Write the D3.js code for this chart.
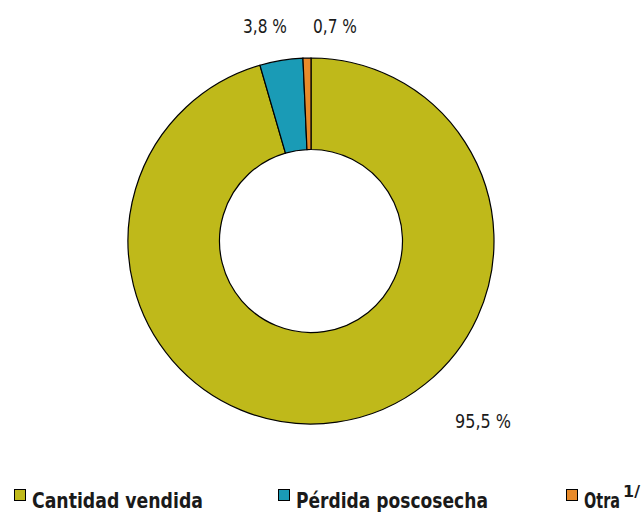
<!DOCTYPE html>
<html><head><meta charset="utf-8">
<script src="https://cdn.jsdelivr.net/npm/d3@7/dist/d3.min.js"></script>
<style>
body{margin:0;background:#fff;}
text{font-family:"DejaVu Sans Condensed","DejaVu Sans",sans-serif;}
</style></head>
<body><svg id="c" width="644" height="512"></svg>
<script>
const categories = ["Cantidad vendida", "Pérdida poscosecha", "Otra"];
const values = [95.5, 3.8, 0.7];
const valueLabels = ["95,5 %", "3,8 %", "0,7 %"];
const colors = ["#BFB91A", "#1A9BB6", "#E88A2A"];

const svg = d3.select("#c");
const cx = 311, cy = 241, rOuter = 183, rInner = 91.5;
const pie = d3.pie().sort(null).value(d => d)(values);
const arc = d3.arc().innerRadius(rInner).outerRadius(rOuter);
const g = svg.append("g").attr("transform", `translate(${cx},${cy})`);
g.selectAll("path").data(pie).join("path")
  .attr("d", arc).attr("fill", (d,i) => colors[i])
  .attr("stroke", "#000").attr("stroke-width", 1.2);

// condensed text helper: scales horizontally to a target width
function condensed(parent, x, y, str, size, weight, width, anchor) {
  const gg = parent.append("g");
  const t = gg.append("text").attr("font-size", size).attr("font-weight", weight)
    .attr("fill", "#1a1a1a").attr("text-anchor", anchor || "start").text(str);
  const natural = t.node().getComputedTextLength();
  gg.attr("transform", `translate(${x},${y}) scale(${width / natural},1)`);
  return gg;
}

// value labels
const labelPos = [[172, 187], [-46, -208], [24, -208]];
const labelW = [56, 44, 44];
pie.forEach((d,i) => condensed(g, labelPos[i][0], labelPos[i][1], valueLabels[i], 19, "normal", labelW[i], "middle"));

// legend
const legX = [14, 278, 566];
const legW = [171, 192, 36];
const lg = svg.append("g");
categories.forEach((c,i) => {
  lg.append("rect").attr("x", legX[i]+0.5).attr("y", 489.5).attr("width", 11).attr("height", 11)
    .attr("fill", colors[i]).attr("stroke", "#000").attr("stroke-width", 1);
  condensed(lg, legX[i]+18, 507.5, c, 21, "bold", legW[i]);
  if (i === 2) condensed(lg, legX[i]+18+legW[i]+3, 497, "1/", 15, "bold", 17);
});
</script></body></html>
